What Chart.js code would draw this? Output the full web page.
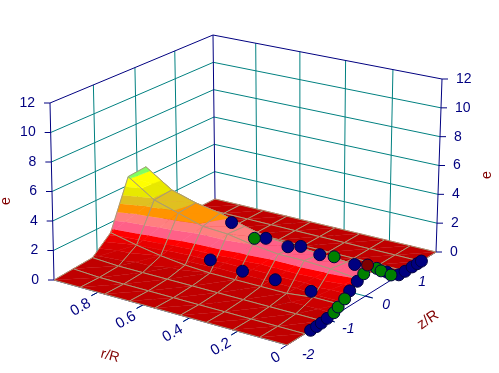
<!DOCTYPE html>
<html lang="en">
<head>
<meta charset="UTF-8">
<title>e over r/R and z/R</title>
<script src="https://cdn.jsdelivr.net/npm/chart.js@4/dist/chart.umd.min.js"></script>
<style>
  body { margin: 0; background: #fff; }
  canvas { display: block; }
</style>
</head>
<body>
<canvas id="chart" width="499" height="373"></canvas>
<script>
// mesh of the surface
const rGrid = [1, 0.88, 0.77, 0.66, 0.55, 0.44, 0.33, 0.22, 0.11, 0];
const zGrid = [-2, -1.56, -1.11, -0.67, -0.22, 0.22, 0.67, 1.11, 1.56, 2];
const eR100 = [0, 0.1, 0.2, 1.3, 4.6, 4.7, 0.1, 0, 0, 0];
const eR088 = [0, 0, 0.1, 0.9, 3.4, 3.5, 0.1, 0, 0, 0];
const eR077 = [0, 0, 0.1, 0.6, 2.9, 3.0, 0.1, 0, 0, 0];
const eR066 = [0, 0, 0.1, 0.4, 2.4, 2.7, 0.1, 0, 0, 0];
const eR055 = [0, 0, 0.1, 0.3, 2.3, 2.2, 0.1, 0, 0, 0];
const eR044 = [0, 0, 0.1, 0.3, 2.0, 1.8, 0.1, 0, 0, 0];
const eR033 = [0, 0, 0.1, 0.3, 1.8, 1.7, 0.1, 0, 0, 0];
const eR022 = [0, 0, 0.1, 0.3, 1.8, 1.6, 0.1, 0, 0, 0];
const eR011 = [0, 0, 0.1, 0.5, 1.7, 1.5, 0.2, 0, 0, 0];
const eR000 = [0, 0, 0.1, 0.5, 1.5, 1.5, 0.4, 0, 0, 0];
const surfaceE = [eR100, eR088, eR077, eR066, eR055, eR044, eR033, eR022, eR011, eR000];

// colour bands of the surface
const bandTops = [0.3, 0.6, 0.9, 1.2, 1.5, 2, 2.5, 3, 3.5, 4, 4.5, 99];
const bandColors = ['#c00000', '#cc0000', '#d80000', '#e80000', '#ff0000', '#ff6088',
  '#ff8080', '#ff9400', '#e0c020', '#e8e800', '#ffff00', '#80ff60'];

// measured points
const blueR = [0.57, 0.42, 0.325, 0.27, 0.19, 0.045, 0.56, 0.42, 0.28, 0.13,
  0, 0, 0, 0, 0, 0, 0, 0, 0, 0, 0, 0];
const blueZ = [0, 0, 0, 0, 0, 0, -0.6, -0.6, -0.6, -0.6,
  -1.42, -1.27, -1.15, -1, -0.42, -0.22, 0.58, 0.92, 1.1, 1.3, 1.45, 1.57];
const blueE = [2.7, 2.2, 2, 2.24, 2, 1.93, 1.05, 0.85, 0.85, 0.7,
  0, 0, 0.03, 0.1, 1, 1.33, 0.73, 0.03, 0, 0, 0, 0];
const greenR = [0.47, 0.13, 0, 0, 0, 0, 0, 0, 0];
const greenZ = [0, 0, -0.83, -0.72, -0.55, -0.05, 0.3, 0.42, 0.7];
const greenE = [2, 2.1, 0.2, 0.4, 0.67, 1.57, 1.4, 1.05, 0.35];
const maroonR = [0];
const maroonZ = [0.05];
const maroonE = [2];

// axes
const rTicks = [0, 0.2, 0.4, 0.6, 0.8];
const zTicks = [-2, -1, 0, 1];
const eTicks = [0, 2, 4, 6, 8, 10, 12];

// box corners on screen: r=0/z=-2, r=1/z=-2, r=1/z=2, r=0/z=2
const floorQuad = [[287, 345], [54, 280], [215, 199], [436, 252]];
const roofQuad = [[285, 158], [50, 103], [213, 35], [442, 79]];

function homography(q) {
  const sx = q[0][0] - q[1][0] + q[2][0] - q[3][0], sy = q[0][1] - q[1][1] + q[2][1] - q[3][1];
  const dx1 = q[1][0] - q[2][0], dx2 = q[3][0] - q[2][0];
  const dy1 = q[1][1] - q[2][1], dy2 = q[3][1] - q[2][1];
  const det = dx1 * dy2 - dx2 * dy1;
  const g = (sx * dy2 - dx2 * sy) / det, h = (dx1 * sy - sx * dy1) / det;
  const a = q[1][0] - q[0][0] + g * q[1][0], b = q[3][0] - q[0][0] + h * q[3][0];
  const d = q[1][1] - q[0][1] + g * q[1][1], e = q[3][1] - q[0][1] + h * q[3][1];
  return (u, v) => {
    const w = g * u + h * v + 1;
    return [(a * u + b * v + q[0][0]) / w, (d * u + e * v + q[0][1]) / w];
  };
}
const floorAt = homography(floorQuad);
const roofAt = homography(roofQuad);

function project(r, z, e) {
  const v = (z + 2) / 4;
  const f = floorAt(r, v), t = roofAt(r, v);
  return { x: f[0] + (t[0] - f[0]) * e / 12, y: f[1] + (t[1] - f[1]) * e / 12 };
}

function clipBand(poly, level, keepAbove) {
  const out = [];
  for (let i = 0; i < poly.length; i++) {
    const p = poly[i], q = poly[(i + 1) % poly.length];
    const pIn = keepAbove ? p[2] >= level : p[2] <= level;
    const qIn = keepAbove ? q[2] >= level : q[2] <= level;
    if (pIn) out.push(p);
    if (pIn !== qIn) {
      const t = (level - p[2]) / (q[2] - p[2]);
      out.push([p[0] + (q[0] - p[0]) * t, p[1] + (q[1] - p[1]) * t, level]);
    }
  }
  return out;
}

function lineSet(points, color, width) {
  return { data: points, showLine: true, borderColor: color, borderWidth: width, pointRadius: 0, fill: false };
}

const teal = '#008080', navy = '#000080', meshColor = '#a89a78';
const sets = [];

// walls and floor grid
eTicks.slice(1, -1).forEach(e => {
  sets.push(lineSet([project(1, -2, e), project(1, 2, e), project(0, 2, e)], teal, 1));
});
zTicks.slice(1).forEach(z => {
  sets.push(lineSet([project(1, z, 0), project(1, z, 12)], teal, 1));
  sets.push(lineSet([project(-0.03, z, 0), project(1, z, 0)], teal, 1));
});
rTicks.slice(1).forEach(r => {
  sets.push(lineSet([project(r, 2, 0), project(r, 2, 12)], teal, 1));
  sets.push(lineSet([project(r, -2.15, 0), project(r, 2, 0)], teal, 1));
});
sets.push(lineSet([project(1, -2, 0), project(1, -2, 12), project(1, 2, 12), project(0, 2, 12), project(0, 2, 0)], navy, 1));
sets.push(lineSet([project(1, 2, 0), project(1, 2, 12)], navy, 1));
sets.push(lineSet([project(1, -2, 0), project(0, -2, 0), project(0, 2, 0)], navy, 1));
eTicks.forEach(e => {
  const l = project(1, -2, e), rt = project(0, 2, e);
  sets.push(lineSet([{ x: l.x - 6, y: l.y }, l], navy, 1));
  sets.push(lineSet([rt, { x: rt.x + 6, y: rt.y }], navy, 1));
});
rTicks.forEach(r => sets.push(lineSet([project(r, -2, 0), project(r, -2.15, 0)], navy, 1)));
zTicks.slice(1).forEach(z => sets.push(lineSet([project(0, z, 0), project(-0.03, z, 0)], navy, 1)));

// surface, far cells first
for (let i = 0; i < rGrid.length - 1; i++) {
  for (let j = zGrid.length - 2; j >= 0; j--) {
    const a = [rGrid[i], zGrid[j], surfaceE[i][j]];
    const b = [rGrid[i], zGrid[j + 1], surfaceE[i][j + 1]];
    const c = [rGrid[i + 1], zGrid[j + 1], surfaceE[i + 1][j + 1]];
    const d = [rGrid[i + 1], zGrid[j], surfaceE[i + 1][j]];
    [[a, b, c], [a, c, d]].forEach(tri => {
      let low = -1;
      bandTops.forEach((top, k) => {
        const part = clipBand(clipBand(tri, low, true), top, false);
        low = top;
        if (part.length < 3) return;
        sets.push({
          data: part.map(p => project(p[0], p[1], p[2])),
          showLine: true, fill: 'shape', pointRadius: 0,
          backgroundColor: bandColors[k], borderColor: bandColors[k], borderWidth: 0.6
        });
      });
    });
    sets.push(lineSet([a, b, c, d, a].map(p => project(p[0], p[1], p[2])), meshColor, 1));
  }
}

function markers(rs, zs, es, color, radius) {
  return {
    data: rs.map((r, i) => project(r, zs[i], es[i])),
    showLine: false, pointRadius: radius, backgroundColor: color,
    borderColor: '#000040', borderWidth: 1
  };
}
sets.push(markers(blueR, blueZ, blueE, '#000080', 6));
sets.push(markers(greenR, greenZ, greenE, '#008000', 6));
sets.push(markers(maroonR, maroonZ, maroonE, '#800000', 6));

function drawText(ctx, text, x, y, angle, font, color, align) {
  ctx.save();
  ctx.translate(x, y);
  ctx.rotate(angle * Math.PI / 180);
  ctx.font = font;
  ctx.fillStyle = color;
  ctx.textAlign = align || 'center';
  ctx.textBaseline = 'middle';
  ctx.fillText(text, 0, 0);
  ctx.restore();
}

const axisText = {
  id: 'axisText',
  afterDatasetsDraw(chart) {
    const ctx = chart.ctx, xs = chart.scales.x, ys = chart.scales.y;
    const font = '14px "Liberation Sans", Arial, sans-serif';
    eTicks.forEach(e => {
      const l = project(1, -2, e), rt = project(0, 2, e);
      drawText(ctx, String(e), xs.getPixelForValue(l.x - 15), ys.getPixelForValue(l.y), 0, font, navy, 'right');
      drawText(ctx, String(e), xs.getPixelForValue(rt.x + 14), ys.getPixelForValue(rt.y), 0, font, navy, 'left');
    });
    rTicks.forEach(r => {
      const p = project(r, -2.3, 0);
      drawText(ctx, String(r), xs.getPixelForValue(p.x + 5), ys.getPixelForValue(p.y + 3), -30,
        '15px "Liberation Sans", Arial, sans-serif', navy, 'right');
    });
    zTicks.forEach(z => {
      const p = project(-0.1, z - 0.1, 0);
      drawText(ctx, String(z), xs.getPixelForValue(p.x), ys.getPixelForValue(p.y), 0, 'italic ' + font, navy);
    });
    const titleFont = '14px "Liberation Sans", Arial, sans-serif';
    drawText(ctx, 'e', 6, 201, -90, titleFont, '#800000');
    drawText(ctx, 'e', 487, 175, -90, titleFont, '#800000');
    drawText(ctx, 'r/R', 110, 356, 15, titleFont, '#800000');
    drawText(ctx, 'z/R', 428, 320, -35, '15px "Liberation Sans", Arial, sans-serif', '#800000');
  }
};

new Chart(document.getElementById('chart'), {
  type: 'scatter',
  data: { datasets: sets.reverse() },
  plugins: [axisText],
  options: {
    responsive: false,
    animation: false,
    layout: { padding: 0, autoPadding: false },
    plugins: { legend: { display: false }, tooltip: { enabled: false } },
    scales: {
      x: { type: 'linear', min: 0, max: 499, display: false },
      y: { type: 'linear', min: 0, max: 373, reverse: true, display: false }
    }
  }
});
</script>
</body>
</html>
